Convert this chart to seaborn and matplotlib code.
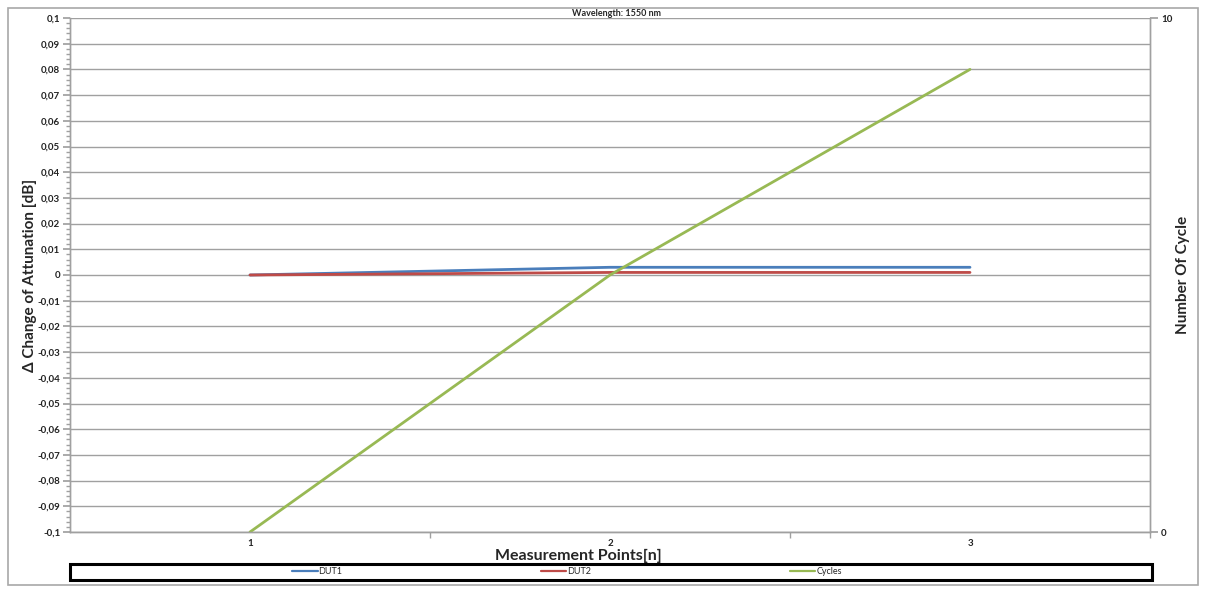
import numpy as np
import pandas as pd
import matplotlib
matplotlib.use("Agg")
import matplotlib.pyplot as plt
import matplotlib.patches as mpatches
from matplotlib.ticker import FuncFormatter, MultipleLocator, FixedLocator
import seaborn as sns

# data
points = [1, 2, 3]
dut1 = [0.0, 0.003, 0.003]
dut2 = [0.0, 0.001, 0.001]
cycles = [0, 5, 9]

title = "Wavelength: 1550 nm"
x_label = "Measurement Points[n]"
y_label = "\u0394 Change of Attunation [dB]"
y2_label = "Number Of Cycle"

sns.set_theme(style="white")
plt.rcParams["font.family"] = ["Lato", "DejaVu Sans"]

df = pd.DataFrame({"point": points, "DUT1": dut1, "DUT2": dut2, "Cycles": cycles})

fig = plt.figure(figsize=(12.06, 5.90), dpi=100)
ax = fig.add_axes([70 / 1206, 58 / 590, 1080 / 1206, 514 / 590])
ax2 = ax.twinx()

grid_c = "#a0a0a0"
sns.lineplot(data=df, x="point", y="DUT1", ax=ax, color="#4a7ebb", lw=2, label="DUT1", legend=False)
sns.lineplot(data=df, x="point", y="DUT2", ax=ax, color="#be4b48", lw=2, label="DUT2", legend=False)
sns.lineplot(data=df, x="point", y="Cycles", ax=ax2, color="#98b954", lw=2, label="Cycles", legend=False)

ax.set_xlim(0.5, 3.5)
ax.set_ylim(-0.1, 0.1)
ax2.set_ylim(0, 10)

ax.yaxis.set_major_locator(MultipleLocator(0.01))
ax.yaxis.set_minor_locator(MultipleLocator(0.002))
ax.yaxis.set_major_formatter(FuncFormatter(lambda v, p: f"{round(v, 2) + 0.0:g}".replace(".", ",")))
ax.grid(axis="y", color=grid_c, lw=1)
ax.set_axisbelow(True)

ax.xaxis.set_major_locator(FixedLocator(points))
ax.xaxis.set_minor_locator(FixedLocator([1.5, 2.5, 3.5]))
ax.tick_params(axis="x", which="major", length=0, pad=5, labelsize=7)
ax.tick_params(axis="x", which="minor", length=4, color=grid_c, direction="out", bottom=True)
ax.tick_params(axis="y", which="major", length=5, color=grid_c, labelsize=7, left=True, pad=2)
ax.tick_params(axis="y", which="minor", length=3, color=grid_c, left=True)
for t in ax.get_yticklabels() + ax.get_xticklabels():
    t.set_fontweight("bold")
    t.set_color("#222222")

ax2.set_yticks([0, 10])
ax2.tick_params(axis="y", length=6, color=grid_c, labelsize=7, right=True, pad=2)
for t in ax2.get_yticklabels():
    t.set_fontweight("bold")
    t.set_color("#222222")

for a in (ax, ax2):
    a.set_xlabel("")
    a.set_ylabel("")
    for s in a.spines.values():
        s.set_color(grid_c)
        s.set_linewidth(1)
ax2.spines["top"].set_visible(False)
ax.spines["top"].set_visible(False)

fig.text(617 / 1206, 1 - 14 / 590, title, ha="center", va="center", fontsize=6.5, fontweight="bold")
fig.text(578 / 1206, 1 - 556 / 590, x_label, ha="center", va="center", fontsize=11.5, fontweight="bold")
fig.text(30 / 1206, 1 - 275 / 590, y_label, ha="center", va="center", rotation=90, fontsize=11, fontweight="bold")
fig.text(1183 / 1206, 1 - 275 / 590, y2_label, ha="center", va="center", rotation=90, fontsize=11, fontweight="bold")

# outer chart border and legend box
fig.patches.append(mpatches.Rectangle((8 / 1206, 5 / 590), 1190 / 1206, 577 / 590, transform=fig.transFigure,
                                      fill=False, edgecolor="#a8a8a8", lw=1.2))
fig.patches.append(mpatches.Rectangle((70 / 1206, 10 / 590), 1082 / 1206, 16 / 590, transform=fig.transFigure,
                                      fill=False, edgecolor="black", lw=2.2))

handles = ax.get_lines()[:2] + ax2.get_lines()[:1]
leg = fig.legend(handles, ["DUT1", "DUT2", "Cycles"], loc="center", bbox_to_anchor=(567 / 1206, 18 / 590),
                 ncol=3, frameon=False, fontsize=6.5, handlelength=2.8, handletextpad=0.1,
                 columnspacing=22)
for h in leg.legend_handles:
    h.set_linewidth(1.6)

fig.savefig("out.png", dpi=100)
